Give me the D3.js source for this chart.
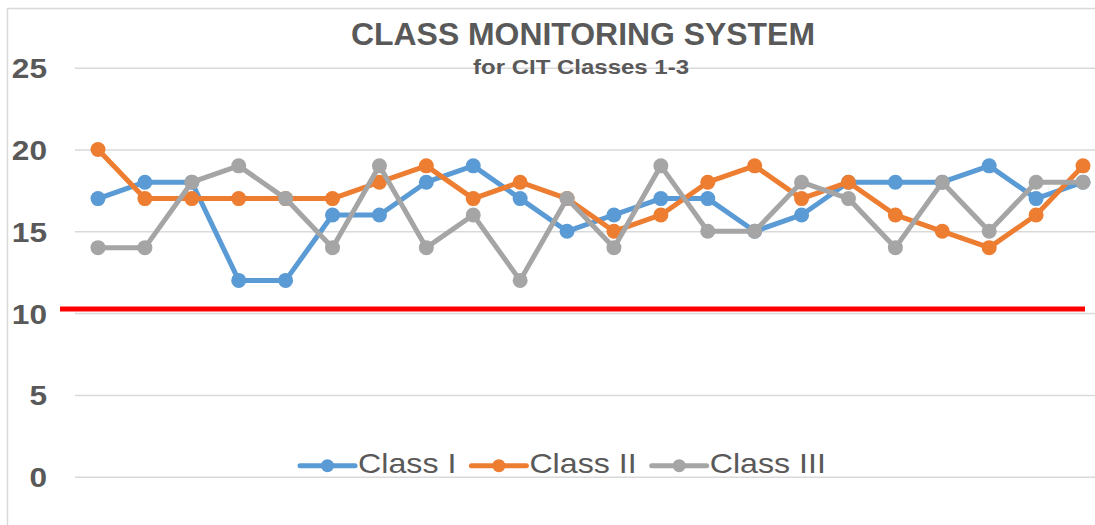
<!DOCTYPE html>
<html>
<head>
<meta charset="utf-8">
<script src="https://cdn.jsdelivr.net/npm/d3@7"></script>
<style>
  body { margin: 0; background: #fff; }
  text { font-family: "Liberation Sans", Arial, sans-serif; fill: #595959; }
</style>
</head>
<body>
<div id="chart"></div>
<script>
// sessions (no labels are shown on the x axis)
const sessions = ["1", "2", "3", "4", "5", "6", "7", "8", "9", "10", "11",
                  "12", "13", "14", "15", "16", "17", "18", "19", "20", "21", "22"]

const classOne   = [17, 18, 18, 12, 12, 16, 16, 18, 19, 17, 15, 16, 17, 17, 15, 16, 18, 18, 18, 19, 17, 18]
const classTwo   = [20, 17, 17, 17, 17, 17, 18, 19, 17, 18, 17, 15, 16, 18, 19, 17, 18, 16, 15, 14, 16, 19]
const classThree = [14, 14, 18, 19, 17, 14, 19, 14, 16, 12, 17, 14, 19, 15, 15, 18, 17, 14, 18, 15, 18, 18]

const seriesNames = ["Class I", "Class II", "Class III"]
const yTicks = [0, 5, 10, 15, 20, 25]
const threshold = 10.25     // red limit line

const colors = ["#5B9BD5", "#ED7D31", "#A5A5A5"]
const stretch = 1.13        // text in the picture is a bit wider than normal

const W = 1095, H = 525

const svg = d3.select("#chart")
  .append("svg")
    .attr("width", W)
    .attr("height", H)

// chart frame (cut off on the right and bottom)
svg.append("rect")
  .attr("x", 7.5).attr("y", 8.5)
  .attr("width", 1200).attr("height", 600)
  .attr("fill", "none")
  .attr("stroke", "#d9d9d9")
  .attr("stroke-width", 1.5)

const x = d3.scalePoint().domain(sessions).range([98, 1083])
const y = d3.scaleLinear().domain([0, 25]).range([476.7, 67.7])

// gridlines + y labels
const yAxis = svg.append("g")
  .attr("transform", "translate(75,0)")
  .call(d3.axisLeft(y).tickValues(yTicks).tickSize(-1030).tickPadding(28))
yAxis.select(".domain").remove()
yAxis.selectAll(".tick line")
  .attr("stroke", "#d9d9d9")
  .attr("stroke-width", 1.5)
yAxis.selectAll(".tick text")
  .attr("x", -28 / stretch)
  .attr("dy", "0.36em")
  .attr("transform", `scale(${stretch},1)`)
  .style("font-family", "'Liberation Sans', Arial, sans-serif")
  .style("font-size", "28px")
  .style("font-weight", "bold")
  .attr("fill", "#595959")

// red limit line
svg.append("line")
  .attr("x1", 60).attr("x2", 1085)
  .attr("y1", y(threshold)).attr("y2", y(threshold))
  .attr("stroke", "#FF0000")
  .attr("stroke-width", 5)

// series
const allSeries = [classOne, classTwo, classThree]
const line = d3.line()
  .x((d, i) => x(sessions[i]))
  .y(d => y(d))

allSeries.forEach((values, k) => {
  const g = svg.append("g")
  g.append("path")
    .datum(values)
    .attr("fill", "none")
    .attr("stroke", colors[k])
    .attr("stroke-width", 5)
    .attr("stroke-linejoin", "round")
    .attr("d", line)
  g.selectAll("circle")
    .data(values)
    .join("circle")
      .attr("cx", (d, i) => x(sessions[i]))
      .attr("cy", d => y(d))
      .attr("r", 7.5)
      .attr("fill", colors[k])
})

// title
function stretchedText(parent, tx, ty, str, size, weight, anchor, sx = stretch) {
  return parent.append("text")
    .attr("transform", `translate(${tx},${ty}) scale(${sx},1)`)
    .attr("text-anchor", anchor)
    .style("font-size", size + "px")
    .style("font-weight", weight)
    .text(str)
}
stretchedText(svg, 583, 45, "CLASS MONITORING SYSTEM", 31, "bold", "middle", 1.03)
stretchedText(svg, 581, 74, "for CIT Classes 1-3", 20, "bold", "middle", 1.2)

// legend
const legend = svg.append("g")
let lx = 300
const ly = 465.7
seriesNames.forEach((name, k) => {
  legend.append("line")
    .attr("x1", lx).attr("x2", lx + 55)
    .attr("y1", ly).attr("y2", ly)
    .attr("stroke", colors[k])
    .attr("stroke-width", 5)
    .attr("stroke-linecap", "round")
  legend.append("circle")
    .attr("cx", lx + 27.5).attr("cy", ly)
    .attr("r", 6.5)
    .attr("fill", colors[k])
  const t = stretchedText(legend, lx + 58, 473.3, name, 28.5, "normal", "start")
  lx += 58 + t.node().getComputedTextLength() * stretch + 15
})
</script>
</body>
</html>
